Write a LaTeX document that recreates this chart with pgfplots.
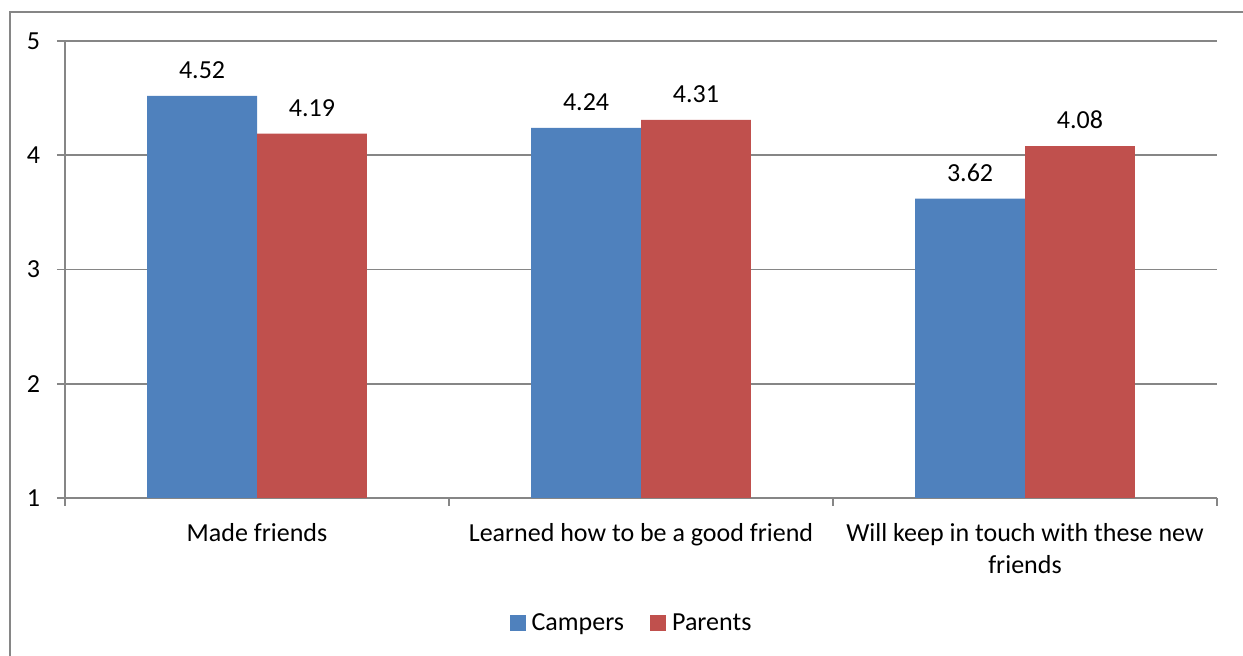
\documentclass[border=0pt]{standalone}
\usepackage{pgfplots}
\pgfplotsset{compat=1.18}
\usepackage{fontspec}
\setmainfont{Carlito}
\definecolor{cblue}{HTML}{4F81BD}
\definecolor{cred}{HTML}{C0504D}
\definecolor{cgray}{HTML}{868686}
\begin{document}
\begin{tikzpicture}[x=1pt,y=1pt]
\useasboundingbox (0,0) rectangle (621.5,328);
\draw[cgray,line width=1pt] (5,-5) -- (5,322) -- (630,322);
\begin{axis}[
  at={(32.5pt,79pt)}, anchor=south west,
  scale only axis, width=576pt, height=228.5pt,
  xmin=-0.5, xmax=2.5, ymin=1, ymax=5,
  axis x line*=bottom, axis y line*=left,
  axis line style={cgray,line width=0.8pt},
  ytick={1,2,3,4,5},
  ymajorgrids, grid style={cgray,line width=0.8pt},
  xtick={0,1,2},
  xticklabels={Made friends, Learned how to be a good friend, {Will keep in touch with these new\\friends}},
  major x tick style={draw=none},
  minor xtick={-0.5,0.5,1.5,2.5},
  minor x tick style={cgray,line width=0.8pt},
  major y tick style={cgray,line width=0.8pt},
  tick align=outside, major tick length=4pt, minor tick length=4pt,
  tick label style={font=\fontsize{13}{16}\selectfont},
  xticklabel style={align=center, yshift=-5pt},
  yticklabel style={xshift=-5pt},
  ybar=0pt, bar width=0.286,
  nodes near coords,
  nodes near coords style={font=\fontsize{13}{16}\selectfont, yshift=5pt, /pgf/number format/.cd, fixed, precision=2, fixed zerofill},
  /pgf/number format/assume math mode=true,
  legend style={draw=none, legend columns=-1, at={(0.4935,-0.274)}, anchor=center,
    font=\fontsize{13}{16}\selectfont,
    nodes={inner xsep=3pt},
    /tikz/every even column/.append style={column sep=10pt}},
  legend image code/.code={\fill[#1] (0pt,-4pt) rectangle (8pt,4pt);},
]
\addplot[fill=cblue, draw=none, bar shift=-0.143] coordinates {(0,4.52) (1,4.24) (2,3.62)};
\addplot[fill=cred, draw=none, bar shift=0.143] coordinates {(0,4.19) (1,4.31) (2,4.08)};
\legend{Campers, Parents}
\end{axis}
\end{tikzpicture}
\end{document}
